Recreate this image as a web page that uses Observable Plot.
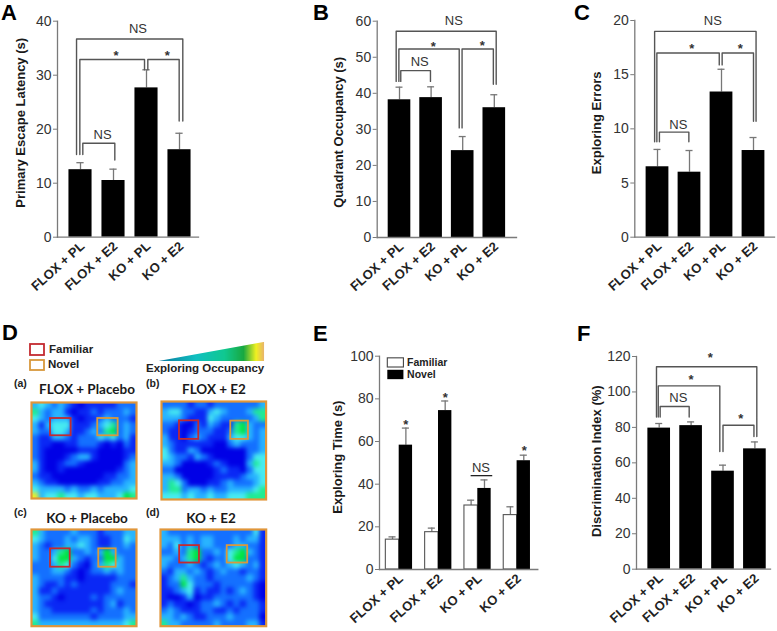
<!DOCTYPE html>
<html>
<head>
<meta charset="utf-8">
<script src="https://cdn.jsdelivr.net/npm/d3@7"></script>
<script src="https://cdn.jsdelivr.net/npm/@observablehq/plot@0.6"></script>
<style>
html,body{margin:0;padding:0;background:#fff}
#page{position:relative;width:777px;height:631px;overflow:hidden;font-family:"Liberation Sans",Arial,sans-serif;color:#111}
#page svg{position:absolute;background:transparent;overflow:visible}
.lbl{position:absolute;white-space:nowrap;line-height:1;transform:translate(0,-50%)}
</style>
</head>
<body>
<div id="page"></div>
<script>
const groups = ["FLOX + PL", "FLOX + E2", "KO + PL", "KO + E2"];

const latency = [12.5, 10.5, 27.65, 16.2];
const latencyTop = [13.8, 12.6, 31, 19.25];
const quadrant = [38.2, 38.8, 24.1, 36];
const quadrantTop = [41.7, 41.8, 28, 39.6];
const errors = [6.5, 6, 13.4, 8];
const errorsTop = [8.1, 8, 15.5, 9.2];
const familiar = [14, 17.5, 30, 25.5];
const familiarTop = [15.3, 19.4, 32.5, 29.4];
const novel = [58.3, 74.5, 38, 51];
const novelTop = [66.3, 79, 42, 53.6];
const discrimination = [79.6, 81, 55.3, 67.9];
const discriminationTop = [82.2, 83.1, 58.7, 71.8];

// Occupancy heat maps, read off the picture as levels 0 (no time) to 7 (most time)
const heatA = ["3432321011111222","5323310112122232","4323331011232221","3134441112345232","3224431123256232","2113321222434231","2110011222101021","2100000111000011","2100012331000012","3100122100000023","3100100000000123","2110000000011223","3211000000112233","4333323223233334","7344544344333465"];
const heatB = ["2222122122222223","3442211343222355","3332111432222235","2210021321156322","2110122211256323","3110232111344323","3211111100232223","4211320000000223","4322132100000244","3320000121000354","2200000012110244","3320000011112334","3542000112322234","3552332322333345","4443433433444555"];
const heatC = ["5322223222122233","4322232332112243","3212233432112232","3223562232363222","3224663212266322","2223542102354322","2223321012232322","3222211011111222","3211212111112221","3112111111112322","3221011112122222","3211111111123122","3221111112122232","4222222221222233","5333333333333345"];
const heatD = ["3222222222222241","3332323322232331","3242323322233221","2232562232456321","3323562122466221","3222321232343231","2133232123221221","1235322122222321","1226422212222210","1123412112123210","1001301122222210","1211012232121221","2321112211212221","3323211222322220","5332222232222331"];
const heatLevels = [0,1,2,3,4,5,6,7];
const heatColors = ["#0000e6","#0a28f5","#1470ff","#28b4ff","#48ecf0","#20ec90","#00e63c","#eef020"];
const wedgeStops = [0,0.35,0.62,0.8,0.92,1];
const wedgeColors = ["#0a7aa0","#10c0c0","#10c890","#18a840","#f0f020","#e8b070"];

const page = document.getElementById("page");
const AXIS = "#7a7a7a", BR = "#555", INK = "#333", FONT = "Liberation Sans";

function place(svg, left, top) { svg.style.left = left + "px"; svg.style.top = top + "px"; page.appendChild(svg); }
function label(text, x, y, style) {
  const d = document.createElement("div");
  d.className = "lbl"; d.textContent = text;
  d.style.left = x + "px"; d.style.top = y + "px";
  Object.assign(d.style, style);
  page.appendChild(d);
}
const bracket = (x1, f1, x2, f2, top) =>
  Plot.line([[x1, f1], [x1, top], [x2, top], [x2, f2]], {stroke: BR, strokeWidth: 1.4, curve: "linear"});
const sign = (t, x, y) =>
  Plot.text([t], {x: () => x, y: () => y, text: d => d, fontSize: 13, fill: "#333", fontWeight: t === "*" ? "bold" : "normal"});

function frameMarks(title, dx, dy, ticks) {
  return [
    Plot.frame({anchor: "left", stroke: AXIS, strokeWidth: 1.3}),
    Plot.frame({anchor: "bottom", stroke: AXIS, strokeWidth: 1.3}),
    Plot.axisY({ticks, tickSize: 0, tickPadding: 6, color: INK, fontSize: 14, label: null}),
    Plot.axisY({ticks, tickSize: 4, color: AXIS, text: null, label: null}),
    Plot.axisX({ticks: [0, 1, 2, 3], tickFormat: i => groups[i], tickSize: 0, tickPadding: 7, tickRotate: -42,
      fontSize: 13, fontWeight: "bold", color: "#222", label: null, dx: 2}),
    Plot.text([title], {frameAnchor: "left", textAnchor: "middle", rotate: -90, dx, dy, fontWeight: "bold", fontSize: 13, fill: "#1a1a1a"})
  ];
}

function barPanel(o) {
  const rows = groups.map((g, i) => ({i, v: o.values[i], t: o.tops[i]}));
  const hw = o.halfWidth;
  const svg = Plot.plot({
    width: o.width, height: o.height,
    marginLeft: o.axisX, marginRight: o.width - o.rightX, marginTop: o.topY, marginBottom: o.height - o.zeroY,
    style: {fontFamily: FONT, background: "transparent"},
    x: {type: "linear", domain: [(o.axisX + o.left - o.c0) / o.step, (o.rightX + o.left - o.c0) / o.step], axis: null},
    y: {domain: o.domain, axis: null},
    marks: [
      Plot.ruleX(rows, {x: "i", y1: "v", y2: "t", stroke: "#777", strokeWidth: 1.3}),
      Plot.ruleY(rows, {y: "t", x1: d => d.i - 0.11, x2: d => d.i + 0.11, stroke: "#777", strokeWidth: 1.3}),
      Plot.rect(rows, {x1: d => d.i - hw, x2: d => d.i + hw, y1: 0, y2: "v", fill: "#000"}),
      ...frameMarks(o.title, o.tdx, o.tdy, o.ticks),
      ...o.notes
    ]
  });
  place(svg, o.left, o.top);
}

barPanel({left: 0, top: 0, width: 300, height: 315, axisX: 57, rightX: 198, topY: 20.7, zeroY: 236.7,
  c0: 80, step: 33, halfWidth: 0.35, domain: [0, 40], ticks: [0, 10, 20, 30, 40],
  values: latency, tops: latencyTop, title: "Primary Escape Latency (s)", tdx: -36.3, tdy: -6.4,
  notes: [
    bracket(-0.12, 15.3, 3.1, 21.5, 36.7),
    bracket(-0.02, 15.3, 1.94, 31, 32.9),
    bracket(2.04, 31, 2.99, 21.5, 32.9),
    bracket(0.07, 15.3, 1.04, 14.3, 17.4),
    sign("NS", 1.74, 38.6), sign("*", 1.08, 33.6), sign("*", 2.63, 33.6), sign("NS", 0.67, 19)
  ]});

barPanel({left: 300, top: 0, width: 250, height: 315, axisX: 76.7, rightX: 216, topY: 20.7, zeroY: 237,
  c0: 399, step: 31.6, halfWidth: 0.358, domain: [0, 60], ticks: [0, 10, 20, 30, 40, 50, 60],
  values: quadrant, tops: quadrantTop, title: "Quadrant Occupancy (s)", tdx: -38.4, tdy: 3,
  notes: [
    bracket(-0.105, 43.3, 3.06, 42.5, 57.2),
    bracket(-0.02, 43.3, 1.89, 30.4, 52.3),
    bracket(1.98, 30.4, 2.97, 42.5, 52.3),
    bracket(0.04, 43.3, 0.98, 43.3, 46.3),
    sign("NS", 1.72, 60), sign("*", 1.07, 53), sign("*", 2.62, 53.3), sign("NS", 0.64, 48.6)
  ]});

barPanel({left: 550, top: 0, width: 227, height: 315, axisX: 84.3, rightX: 224, topY: 20, zeroY: 236.7,
  c0: 657, step: 32, halfWidth: 0.356, domain: [0, 20], ticks: [0, 5, 10, 15, 20],
  values: errors, tops: errorsTop, title: "Exploring Errors", tdx: -37.7, tdy: -6,
  notes: [
    bracket(-0.09, 8.8, 3.08, 10.7, 19),
    bracket(-0.02, 8.8, 1.93, 15.9, 17),
    bracket(2.02, 15.9, 3, 10.7, 17),
    bracket(0.06, 8.8, 0.98, 8.8, 9.7),
    sign("NS", 1.73, 20), sign("*", 1.07, 17.4), sign("*", 2.59, 17.4), sign("NS", 0.65, 10.4)
  ]});

barPanel({left: 560, top: 320, width: 217, height: 311, axisX: 76, rightX: 210, topY: 36, zeroY: 248.7,
  c0: 658.7, step: 31.9, halfWidth: 0.355, domain: [0, 120], ticks: [0, 20, 40, 60, 80, 100, 120],
  values: discrimination, tops: discriminationTop, title: "Discrimination Index (%)", tdx: -39.3, tdy: -1.6,
  notes: [
    bracket(-0.085, 85.8, 3.06, 74.9, 114.2),
    bracket(-0.03, 85.8, 1.9, 66.4, 103.4),
    bracket(0.03, 85.8, 0.94, 85.8, 91.8),
    bracket(2, 66.4, 2.97, 74.9, 81.2),
    sign("*", 1.6, 119), sign("*", 1, 107), sign("NS", 0.6, 96.5), sign("*", 2.56, 85)
  ]});

// Panel E: paired bars with a small key
(function () {
  const rows = groups.map((g, i) => ({i, f: familiar[i], ft: familiarTop[i], n: novel[i], nt: novelTop[i]}));
  const w = 0.34, cap = 0.09;
  const left = 310, top = 320, axisX = 69, rightX = 227.3, c0 = 398.7, step = 39.3;
  const svg = Plot.plot({
    width: 250, height: 311,
    marginLeft: axisX, marginRight: 250 - rightX, marginTop: 35.7, marginBottom: 311 - 249,
    style: {fontFamily: FONT, background: "transparent"},
    x: {type: "linear", domain: [(axisX + left - c0) / step, (rightX + left - c0) / step], axis: null},
    y: {domain: [0, 100], axis: null},
    marks: [
      Plot.ruleX(rows, {x: d => d.i - w / 2, y1: "f", y2: "ft", stroke: "#777", strokeWidth: 1.3}),
      Plot.ruleY(rows, {y: "ft", x1: d => d.i - w / 2 - cap, x2: d => d.i - w / 2 + cap, stroke: "#777", strokeWidth: 1.3}),
      Plot.ruleX(rows, {x: d => d.i + w / 2, y1: "n", y2: "nt", stroke: "#777", strokeWidth: 1.3}),
      Plot.ruleY(rows, {y: "nt", x1: d => d.i + w / 2 - cap, x2: d => d.i + w / 2 + cap, stroke: "#777", strokeWidth: 1.3}),
      Plot.rect(rows, {x1: d => d.i - w, x2: "i", y1: 0, y2: "f", fill: "#fff", stroke: "#555", strokeWidth: 1.1}),
      Plot.rect(rows, {x1: "i", x2: d => d.i + w, y1: 0, y2: "n", fill: "#000"}),
      ...frameMarks("Exploring Time (s)", -41.7, -5.7, [0, 20, 40, 60, 80, 100]),
      Plot.ruleY([44], {x1: 1.83, x2: 2.38, stroke: "#222", strokeWidth: 1.3}),
      sign("NS", 2.08, 47.5), sign("*", 0.17, 68), sign("*", 1.17, 80.5), sign("*", 3.18, 55.5),
      Plot.rect([0], {x1: -0.29, x2: 0.12, y1: 94.7, y2: 99, fill: "#fff", stroke: "#444", strokeWidth: 1.1}),
      Plot.rect([0], {x1: -0.29, x2: 0.12, y1: 89, y2: 93.4, fill: "#000"}),
      Plot.text(["Familiar"], {x: () => 0.2, y: () => 96.9, textAnchor: "start", fontWeight: "bold", fontSize: 10.5, fill: "#222"}),
      Plot.text(["Novel"], {x: () => 0.2, y: () => 91.3, textAnchor: "start", fontWeight: "bold", fontSize: 10.5, fill: "#222"})
    ]
  });
  place(svg, left, top);
})();

// Panel D: four occupancy maps
function heat(rowsText, x0, y0, w, h, fam, nov) {
  const cells = rowsText.flatMap((r, y) => [...r].map((c, x) => ({x: x + 0.5, y: y + 0.5, v: +c})));
  const box = (b, color) => Plot.rect([b], {x1: d => d[0], x2: d => d[1], y1: d => d[2], y2: d => d[3], fill: "none", stroke: color, strokeWidth: 1.8});
  const svg = Plot.plot({
    width: w, height: h, margin: 0,
    style: {background: "transparent"},
    x: {domain: [0, 16], axis: null},
    y: {domain: [15, 0], axis: null},
    color: {type: "linear", domain: heatLevels, range: heatColors},
    marks: [
      Plot.raster(cells, {x: "x", y: "y", fill: "v", interpolate: "nearest", blur: 1.6}),
      box(fam, "#c42a30"),
      box(nov, "#d8983c"),
      Plot.frame({stroke: "#e0963a", strokeWidth: 2.2})
    ]
  });
  place(svg, x0, y0);
}
heat(heatA, 31, 402.3, 105, 96, [2.9, 6.04, 2.5, 5.2], [10.1, 13.2, 2.5, 5.2]);
heat(heatB, 160.7, 401, 104.6, 98, [2.75, 5.7, 2.96, 5.8], [10.6, 13.3, 3, 5.8]);
heat(heatC, 31, 529, 105, 96.7, [2.9, 5.9, 3, 5.85], [10.25, 12.9, 3, 5.85]);
heat(heatD, 160, 529, 105.7, 96.7, [2.9, 5.9, 2.5, 5.2], [10.1, 13.2, 2.5, 5.2]);

// Legend key squares for D
place(Plot.plot({
  width: 14, height: 26, margin: 0,
  style: {background: "transparent"},
  x: {domain: [0, 14], axis: null}, y: {domain: [26, 0], axis: null},
  marks: [
    Plot.rect([0], {x1: 0, x2: 14, y1: 0, y2: 11, fill: "none", stroke: "#c42a30", strokeWidth: 1.8}),
    Plot.rect([0], {x1: 0, x2: 14, y1: 16, y2: 26, fill: "none", stroke: "#d8983c", strokeWidth: 1.8})
  ]
}), 30, 344);

// Wedge showing the occupancy colour ramp
const wedgeSteps = d3.range(0, 105).map(i => i / 105);
place(Plot.plot({
  width: 105, height: 19, margin: 0,
  style: {background: "transparent"},
  x: {domain: [0, 1], axis: null}, y: {domain: [0, 1], axis: null},
  color: {type: "linear", domain: wedgeStops, range: wedgeColors},
  marks: [Plot.rect(wedgeSteps, {x1: d => d, x2: d => d + 1 / 100, y1: 0, y2: d => d + 1 / 105, fill: d => d})]
}), 159, 342);

const letter = {fontSize: "22px", fontWeight: "bold", color: "#000"};
label("A", 1, 13, letter); label("B", 313, 13, letter); label("C", 574, 13, letter);
label("D", 2, 333, letter); label("E", 313, 334, letter); label("F", 577, 334, letter);

const keyText = {fontSize: "11.5px", fontWeight: "bold", color: "#222"};
label("Familiar", 49, 350, keyText); label("Novel", 48, 365, keyText);
label("Exploring Occupancy", 146, 369, keyText);

const sub = {fontSize: "10.5px", fontWeight: "bold", color: "#222"};
label("(a)", 14, 383, sub); label("(b)", 146, 383, sub); label("(c)", 14, 512, sub); label("(d)", 146, 512, sub);

const head = {fontFamily: "Lato", fontSize: "13.5px", fontWeight: "bold", color: "#1a1a1a", transform: "translate(-50%,-50%)"};
label("FLOX + Placebo", 87, 390, head); label("FLOX + E2", 214, 390, head);
label("KO + Placebo", 87, 519, head); label("KO + E2", 211, 519, head);
</script>
</body>
</html>
